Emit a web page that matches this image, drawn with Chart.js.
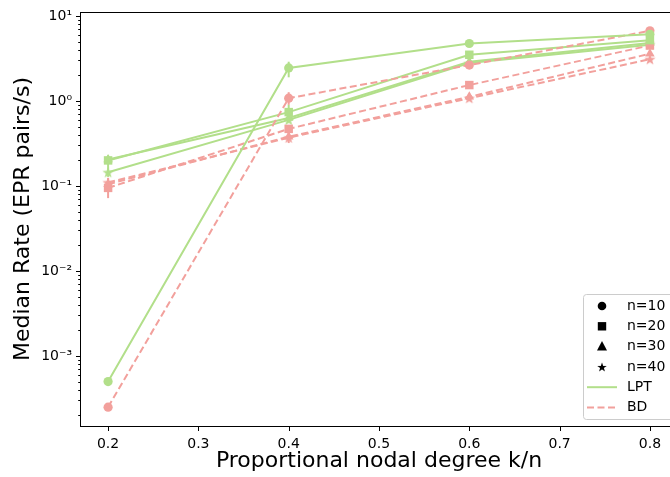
<!DOCTYPE html>
<html>
<head>
<meta charset="utf-8">
<script src="https://cdn.jsdelivr.net/npm/chart.js@4/dist/chart.umd.min.js"></script>
<style>
  html, body { margin: 0; padding: 0; background: #fff; overflow: hidden; }
  #wrap { width: 700px; height: 477px; }
</style>
</head>
<body>
<div id="wrap"><canvas id="rateChart" width="700" height="477"></canvas></div>
<script>
// x positions (proportional nodal degree k/n)
const kn = [0.2, 0.4, 0.6, 0.8];
const xTicks = [0.2, 0.3, 0.4, 0.5, 0.6, 0.7, 0.8];

// median rates
const lpt10 = [0.0005, 2.45, 4.75, 6.1];
const lpt20 = [0.20, 0.74, 3.5, 5.2];
const lpt30 = [0.205, 0.63, 2.9, 4.8];
const lpt40 = [0.145, 0.60, 2.8, 4.6];
const bd10 = [0.00025, 1.08, 2.65, 6.7];
const bd20 = [0.095, 0.47, 1.54, 4.5];
const bd30 = [0.105, 0.38, 1.12, 3.6];
const bd40 = [0.11, 0.37, 1.08, 3.1];

// error bar ranges [low, high], null where none is visible
const lpt10Err = [null, [1.9, 2.9], null, null];
const lpt20Err = [null, [0.6, 0.9], null, null];
const lpt40Err = [[0.128, 0.23], null, null, null];
const bd10Err = [null, [0.9, 1.27], null, null];
const bd20Err = [[0.072, 0.124], null, null, null];
const bd30Err = [null, [0.32, 0.45], null, null];

const legendNames = ['n=10', 'n=20', 'n=30', 'n=40'];

const GREEN = '#b2df8a';
const RED = '#f2a09c';

function makeStar(color, rOut) {
    const c = document.createElement('canvas');
    const s = Math.ceil(rOut * 2 + 2);
    c.width = s; c.height = s;
    const g = c.getContext('2d');
    const cx = s / 2, cy = s / 2 + 0.5, rIn = rOut * 0.4;
    g.beginPath();
    for (let i = 0; i < 10; i++) {
        const r = i % 2 === 0 ? rOut : rIn;
        const a = -Math.PI / 2 + i * Math.PI / 5;
        const px = cx + r * Math.cos(a), py = cy + r * Math.sin(a);
        if (i === 0) g.moveTo(px, py); else g.lineTo(px, py);
    }
    g.closePath();
    g.fillStyle = color;
    g.fill();
    return c;
}

const markers = [
    { style: 'circle', radius: 4.6 },
    { style: 'rect', radius: 6 },
    { style: 'triangle', radius: 5.5 },
    { style: 'star', radius: 6 }
];

function series(vals, err, method, idx) {
    const color = method === 'LPT' ? GREEN : RED;
    const m = markers[idx];
    const ps = m.style === 'star' ? makeStar(color, m.radius) : m.style;
    return {
        label: method + ' ' + legendNames[idx],
        data: kn.map((x, i) => ({ x: x, y: vals[i] })),
        err: err,
        borderColor: color,
        backgroundColor: color,
        borderWidth: 2,
        borderDash: method === 'BD' ? [7, 3.5] : [],
        pointStyle: ps,
        pointRadius: m.radius,
        pointBorderWidth: 0,
        pointBackgroundColor: color,
        fill: false,
        tension: 0
    };
}

function sup(n) {
    const map = { '-': '\u207b', '0': '\u2070', '1': '\u00b9', '2': '\u00b2', '3': '\u00b3',
        '4': '\u2074', '5': '\u2075', '6': '\u2076', '7': '\u2077', '8': '\u2078', '9': '\u2079' };
    return String(n).split('').map(ch => map[ch]).join('');
}

function isDecade(v) {
    const e = Math.log10(v);
    return Math.abs(e - Math.round(e)) < 1e-9;
}

// error bars under the markers
const errorBars = {
    id: 'errorBars',
    beforeDatasetsDraw(chart) {
        const { ctx, scales: { x, y } } = chart;
        ctx.save();
        chart.data.datasets.forEach(ds => {
            if (!ds.err) return;
            ds.err.forEach((e, i) => {
                if (!e) return;
                const px = x.getPixelForValue(kn[i]);
                ctx.strokeStyle = ds.borderColor;
                ctx.lineWidth = 2;
                ctx.beginPath();
                ctx.moveTo(px, y.getPixelForValue(e[0]));
                ctx.lineTo(px, y.getPixelForValue(e[1]));
                ctx.stroke();
            });
        });
        ctx.restore();
    }
};

// frame, outward ticks and the legend box
const frameAndLegend = {
    id: 'frameAndLegend',
    afterDraw(chart) {
        const { ctx, chartArea: a, scales: { x, y } } = chart;
        ctx.save();
        ctx.strokeStyle = '#000';
        ctx.lineWidth = 1;
        ctx.strokeRect(Math.round(a.left) - 0.5, Math.round(a.top) + 0.5,
            Math.round(a.right - a.left) + 1, Math.round(a.bottom - a.top));
        ctx.beginPath();
        x.ticks.forEach(t => {
            const px = Math.round(x.getPixelForValue(t.value)) + 0.5;
            ctx.moveTo(px, a.bottom);
            ctx.lineTo(px, a.bottom + 5);
        });
        y.ticks.forEach(t => {
            const py = Math.round(y.getPixelForValue(t.value)) + 0.5;
            const len = isDecade(t.value) ? 5 : 2.8;
            ctx.moveTo(a.left, py);
            ctx.lineTo(a.left - len, py);
        });
        ctx.stroke();

        // legend
        const bx = 583.5, by = 294.5, bw = 120, bh = 125;
        ctx.fillStyle = 'rgba(255,255,255,0.8)';
        ctx.strokeStyle = '#cccccc';
        ctx.lineWidth = 1;
        ctx.beginPath();
        ctx.roundRect(bx, by, bw, bh, 3);
        ctx.fill();
        ctx.stroke();

        ctx.font = '14px "DejaVu Sans"';
        ctx.textBaseline = 'middle';
        ctx.textAlign = 'left';
        const mx = 602, tx = 627, row0 = 306, step = 20.3;
        legendNames.forEach((name, i) => {
            const cy = row0 + i * step;
            const m = markers[i];
            ctx.fillStyle = '#000';
            ctx.beginPath();
            if (m.style === 'circle') {
                ctx.arc(mx, cy, 4.3, 0, Math.PI * 2);
                ctx.fill();
            } else if (m.style === 'rect') {
                ctx.fillRect(mx - 4.2, cy - 4.2, 8.4, 8.4);
            } else if (m.style === 'triangle') {
                ctx.moveTo(mx, cy - 5.5);
                ctx.lineTo(mx + 5, cy + 3.8);
                ctx.lineTo(mx - 5, cy + 3.8);
                ctx.closePath();
                ctx.fill();
            } else {
                const st = makeStar('#000', 5);
                ctx.drawImage(st, mx - st.width / 2, cy - st.height / 2);
            }
            ctx.fillText(name, tx, cy);
        });
        const lines = [['LPT', GREEN, []], ['BD', RED, [7, 3.5]]];
        lines.forEach((l, j) => {
            const cy = row0 + (4 + j) * step;
            ctx.strokeStyle = l[1];
            ctx.lineWidth = 2;
            ctx.setLineDash(l[2]);
            ctx.beginPath();
            ctx.moveTo(587, cy);
            ctx.lineTo(617, cy);
            ctx.stroke();
            ctx.setLineDash([]);
            ctx.fillStyle = '#000';
            ctx.fillText(l[0], tx, cy);
        });
        ctx.restore();
    }
};

const datasets = [
    series(lpt10, lpt10Err, 'LPT', 0),
    series(bd10, bd10Err, 'BD', 0),
    series(lpt20, lpt20Err, 'LPT', 1),
    series(bd20, bd20Err, 'BD', 1),
    series(lpt30, null, 'LPT', 2),
    series(bd30, bd30Err, 'BD', 2),
    series(lpt40, lpt40Err, 'LPT', 3),
    series(bd40, null, 'BD', 3)
];

const ctx = document.getElementById('rateChart').getContext('2d');
new Chart(ctx, {
    type: 'line',
    data: { datasets: datasets },
    options: {
        responsive: false,
        animation: false,
        events: [],
        layout: { padding: { top: 12, right: 23, left: 0, bottom: 0 } },
        plugins: {
            legend: { display: false },
            tooltip: { enabled: false }
        },
        scales: {
            x: {
                type: 'linear',
                min: 0.17,
                max: 0.83,
                afterBuildTicks: s => { s.ticks = xTicks.map(v => ({ value: v })); },
                afterFit: s => { s.height = 51; s.paddingLeft = 0; s.paddingRight = 0; },
                grid: { display: false, drawTicks: false },
                border: { display: false },
                ticks: {
                    color: '#000',
                    font: { family: 'DejaVu Sans', size: 14 },
                    padding: 10,
                    autoSkip: false,
                    maxRotation: 0,
                    callback: v => v.toFixed(1)
                },
                title: {
                    display: true,
                    text: 'Proportional nodal degree k/n',
                    color: '#000',
                    font: { family: 'DejaVu Sans', size: 22 },
                    padding: { top: 0, bottom: 3 }
                }
            },
            y: {
                type: 'logarithmic',
                min: 1.5e-4,
                max: 11.15,
                afterBuildTicks: s => {
                    s.ticks = s.ticks.filter(t => {
                        const e = Math.floor(Math.log10(t.value) + 1e-9);
                        const m = t.value / Math.pow(10, e);
                        return Math.abs(m - Math.round(m)) < 1e-6;
                    });
                },
                afterFit: s => { s.width = 81; s.paddingTop = 0; s.paddingBottom = 0; },
                grid: { display: false, drawTicks: false },
                border: { display: false },
                ticks: {
                    color: '#000',
                    font: { family: 'DejaVu Sans', size: 14 },
                    padding: 9,
                    autoSkip: false,
                    callback: v => {
                        if (!isDecade(v)) return '';
                        return '10' + sup(Math.round(Math.log10(v)));
                    }
                },
                title: {
                    display: true,
                    text: 'Median Rate (EPR pairs/s)',
                    color: '#000',
                    font: { family: 'DejaVu Sans', size: 22 },
                    padding: { top: 10, bottom: 0 }
                }
            }
        }
    },
    plugins: [errorBars, frameAndLegend]
});
</script>
</body>
</html>
